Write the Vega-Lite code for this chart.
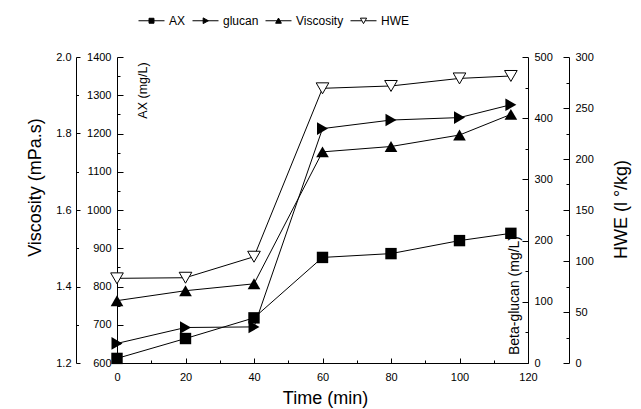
{
  "$schema": "https://vega.github.io/schema/vega-lite/v6.json",
  "width": 411,
  "height": 306,
  "autosize": {"type": "none"},
  "padding": {"left": 117, "top": 57, "right": 113, "bottom": 46},
  "background": "white",
  "config": {
    "view": {"stroke": null},
    "font": "Liberation Sans",
    "axis": {
      "domainColor": "black", "labelColor": "black", "titleColor": "black",
      "labelFont": "Liberation Sans", "titleFont": "Liberation Sans", "labelFontSize": 11,
      "titleFontWeight": "normal", "labelFlush": false, "labelOverlap": false
    }
  },
  "data": {
    "values": [
      {"t": 0, "series": "AX", "v": 612}, {"t": 20, "series": "AX", "v": 664}, {"t": 40, "series": "AX", "v": 718},
      {"t": 60, "series": "AX", "v": 876}, {"t": 80, "series": "AX", "v": 886}, {"t": 100, "series": "AX", "v": 920},
      {"t": 115, "series": "AX", "v": 939},
      {"t": 0, "series": "glucan", "v": 32}, {"t": 20, "series": "glucan", "v": 58}, {"t": 40, "series": "glucan", "v": 59},
      {"t": 60, "series": "glucan", "v": 383}, {"t": 80, "series": "glucan", "v": 397}, {"t": 100, "series": "glucan", "v": 401},
      {"t": 115, "series": "glucan", "v": 422},
      {"t": 0, "series": "Viscosity", "v": 1.363}, {"t": 20, "series": "Viscosity", "v": 1.389}, {"t": 40, "series": "Viscosity", "v": 1.407},
      {"t": 60, "series": "Viscosity", "v": 1.752}, {"t": 80, "series": "Viscosity", "v": 1.766}, {"t": 100, "series": "Viscosity", "v": 1.796},
      {"t": 115, "series": "Viscosity", "v": 1.85},
      {"t": 0, "series": "HWE", "v": 83}, {"t": 20, "series": "HWE", "v": 83.6}, {"t": 40, "series": "HWE", "v": 104.2},
      {"t": 60, "series": "HWE", "v": 269.3}, {"t": 80, "series": "HWE", "v": 271.6}, {"t": 100, "series": "HWE", "v": 279},
      {"t": 115, "series": "HWE", "v": 281.4}
    ]
  },
  "layer": [
    {
      "transform": [{"filter": "datum.series === 'Viscosity'"}],
      "mark": {"type": "line", "color": "black", "strokeWidth": 1},
      "encoding": {
        "x": {
          "field": "t", "type": "quantitative",
          "scale": {"domain": [0, 120], "nice": false, "zero": false},
          "axis": {
            "orient": "bottom", "values": [0, 20, 40, 60, 80, 100, 120], "format": "d", "grid": false,
            "tickColor": "black", "tickSize": -5, "labelPadding": 13,
            "title": "Time (min)", "titleFontSize": 18, "titleX": 208, "titleY": 40,
            "titleAlign": "center", "titleBaseline": "alphabetic", "titleAngle": 0
          }
        },
        "y": {
          "field": "v", "type": "quantitative",
          "scale": {"domain": [1.2, 2.0], "nice": false, "zero": false},
          "axis": {
            "orient": "left", "offset": 41, "grid": false,
            "values": [1.2, 1.4, 1.6, 1.8, 2.0], "format": ".1f",
            "tickColor": "black", "tickSize": -4, "labelPadding": 9,
            "title": "Viscosity (mPa.s)", "titleFontSize": 18, "titleAngle": 270,
            "titleX": -36, "titleY": 130, "titleAlign": "center", "titleBaseline": "alphabetic"
          }
        }
      }
    },
    {
      "transform": [{"filter": "datum.series === 'AX'"}],
      "mark": {"type": "line", "color": "black", "strokeWidth": 1},
      "encoding": {
        "x": {
          "field": "t", "type": "quantitative",
          "scale": {"domain": [0, 120], "nice": false, "zero": false},
          "axis": {
            "orient": "bottom", "values": [10, 30, 50, 70, 90, 110], "grid": false,
            "tickColor": "black", "tickSize": -3, "labels": false, "domain": false, "title": null
          }
        },
        "y": {
          "field": "v", "type": "quantitative",
          "scale": {"domain": [600, 1400], "nice": false, "zero": false},
          "axis": {
            "orient": "left", "offset": 0, "grid": false,
            "values": [600, 700, 800, 900, 1000, 1100, 1200, 1300, 1400], "format": "d",
            "tickColor": "black", "tickSize": -6, "labelPadding": 12,
            "title": "AX (mg/L)", "titleFontSize": 12.5, "titleAngle": 270,
            "titleX": 29, "titleY": 33, "titleAlign": "center", "titleBaseline": "alphabetic"
          }
        }
      }
    },
    {
      "transform": [{"filter": "datum.series === 'glucan'"}],
      "mark": {"type": "line", "color": "black", "strokeWidth": 1},
      "encoding": {
        "x": {"field": "t", "type": "quantitative", "scale": {"domain": [0, 120], "nice": false, "zero": false}, "axis": null},
        "y": {
          "field": "v", "type": "quantitative",
          "scale": {"domain": [0, 500], "nice": false, "zero": false},
          "axis": {
            "orient": "right", "offset": 0, "grid": false,
            "values": [0, 100, 200, 300, 400, 500], "format": "d",
            "tickColor": "black", "tickSize": -6, "labelPadding": 12,
            "title": "Beta-glucan (mg/L)", "titleFontSize": 14, "titleAngle": 270,
            "titleX": -10, "titleY": 238, "titleAlign": "center", "titleBaseline": "alphabetic"
          }
        }
      }
    },
    {
      "transform": [{"filter": "datum.series === 'HWE'"}],
      "mark": {"type": "line", "color": "black", "strokeWidth": 1},
      "encoding": {
        "x": {"field": "t", "type": "quantitative", "scale": {"domain": [0, 120], "nice": false, "zero": false}, "axis": null},
        "y": {
          "field": "v", "type": "quantitative",
          "scale": {"domain": [0, 300], "nice": false, "zero": false},
          "axis": {
            "orient": "right", "offset": 41, "grid": false,
            "values": [0, 50, 100, 150, 200, 250, 300], "format": "d",
            "tickColor": "black", "tickSize": -6, "labelPadding": 12,
            "title": "HWE (l °/kg)", "titleFontSize": 18, "titleAngle": 270,
            "titleX": 57, "titleY": 152, "titleAlign": "center", "titleBaseline": "alphabetic"
          }
        }
      }
    },
    {
      "transform": [{"filter": "datum.series === 'Viscosity'"}],
      "mark": {"type": "point", "shape": "triangle-up", "filled": true, "color": "black", "size": 160, "opacity": 1},
      "encoding": {
        "x": {"field": "t", "type": "quantitative", "scale": {"domain": [0, 120], "nice": false, "zero": false}, "axis": null},
        "y": {
          "field": "v", "type": "quantitative",
          "scale": {"domain": [1.2, 2.0], "nice": false, "zero": false},
          "axis": {
            "orient": "left", "offset": 41, "values": [1.3, 1.5, 1.7, 1.9], "grid": false,
            "tickColor": "black", "tickSize": -2.5, "labels": false, "domain": false, "title": null
          }
        }
      }
    },
    {
      "transform": [{"filter": "datum.series === 'AX'"}],
      "encoding": {
        "x": {"field": "t", "type": "quantitative", "scale": {"domain": [0, 120], "nice": false, "zero": false}, "axis": null},
        "y": {
          "field": "v", "type": "quantitative",
          "scale": {"domain": [600, 1400], "nice": false, "zero": false},
          "axis": {
            "orient": "left", "offset": 0, "values": [650, 750, 850, 950, 1050, 1150, 1250, 1350], "grid": false,
            "tickColor": "black", "tickSize": -3, "labels": false, "domain": false, "title": null
          }
        }
      },
      "layer": [
        {"mark": {"type": "point", "shape": "square", "filled": true, "color": "black", "size": 130, "opacity": 1}},
        {
          "mark": {"type": "point", "filled": true, "opacity": 0},
          "encoding": {
            "shape": {
              "field": "series", "type": "nominal",
              "scale": {
                "domain": ["AX", "glucan", "Viscosity", "HWE"],
                "range": [
                  "M-1,0H1M-0.19,-0.19H0.19V0.19H-0.19Z",
                  "M-1,0H1M-0.18,-0.22L0.22,0L-0.18,0.22Z",
                  "M-1,0H1M-0.22,0.19L0,-0.21L0.22,0.19Z",
                  "M-1,0H-0.14M0.14,0H1M-0.24,-0.2L0.24,-0.2L0,0.22Z"
                ]
              },
              "legend": {
                "orient": "none", "legendX": 21, "legendY": -50,
                "direction": "horizontal", "title": null,
                "labelFont": "Liberation Sans", "labelFontSize": 12, "labelColor": "black",
                "symbolSize": 676, "symbolStrokeWidth": 1, "symbolOpacity": 1,
                "labelOffset": 4, "columnPadding": 4, "padding": 0
              }
            },
            "fill": {
              "field": "series", "type": "nominal",
              "scale": {"domain": ["AX", "glucan", "Viscosity", "HWE"], "range": ["black", "black", "black", "white"]},
              "legend": {
                "orient": "none", "legendX": 21, "legendY": -50,
                "direction": "horizontal", "title": null,
                "labelFont": "Liberation Sans", "labelFontSize": 12, "labelColor": "black",
                "symbolSize": 676, "symbolStrokeWidth": 1, "symbolOpacity": 1,
                "labelOffset": 4, "columnPadding": 4, "padding": 0
              }
            },
            "stroke": {
              "field": "series", "type": "nominal",
              "scale": {"domain": ["AX", "glucan", "Viscosity", "HWE"], "range": ["black", "black", "black", "black"]},
              "legend": {
                "orient": "none", "legendX": 21, "legendY": -50,
                "direction": "horizontal", "title": null,
                "labelFont": "Liberation Sans", "labelFontSize": 12, "labelColor": "black",
                "symbolSize": 676, "symbolStrokeWidth": 1, "symbolOpacity": 1,
                "labelOffset": 4, "columnPadding": 4, "padding": 0
              }
            }
          }
        }
      ]
    },
    {
      "transform": [{"filter": "datum.series === 'glucan'"}],
      "mark": {"type": "point", "shape": "triangle-right", "filled": true, "color": "black", "size": 160, "opacity": 1},
      "encoding": {
        "x": {"field": "t", "type": "quantitative", "scale": {"domain": [0, 120], "nice": false, "zero": false}, "axis": null},
        "y": {
          "field": "v", "type": "quantitative",
          "scale": {"domain": [0, 500], "nice": false, "zero": false},
          "axis": {
            "orient": "right", "offset": 0, "values": [50, 150, 250, 350, 450], "grid": false,
            "tickColor": "black", "tickSize": -3, "labels": false, "domain": false, "title": null
          }
        }
      }
    },
    {
      "transform": [{"filter": "datum.series === 'HWE'"}],
      "mark": {"type": "point", "shape": "triangle-down", "filled": true, "fill": "white", "stroke": "black", "strokeWidth": 1, "size": 160, "opacity": 1},
      "encoding": {
        "x": {"field": "t", "type": "quantitative", "scale": {"domain": [0, 120], "nice": false, "zero": false}, "axis": null},
        "y": {
          "field": "v", "type": "quantitative",
          "scale": {"domain": [0, 300], "nice": false, "zero": false},
          "axis": {
            "orient": "right", "offset": 41, "values": [25, 75, 125, 175, 225, 275], "grid": false,
            "tickColor": "black", "tickSize": -3, "labels": false, "domain": false, "title": null
          }
        }
      }
    }
  ],
  "resolve": {"scale": {"x": "independent", "y": "independent"}}
}
